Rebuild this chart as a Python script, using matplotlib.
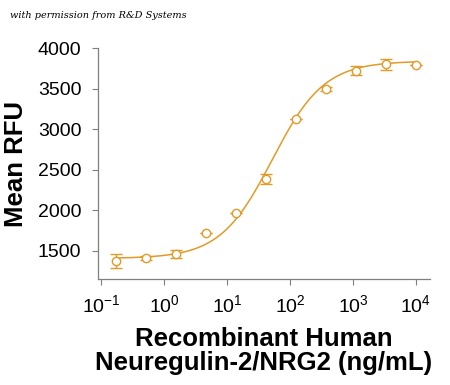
import numpy as np
import matplotlib
matplotlib.use("Agg")
import matplotlib.pyplot as plt

plt.rcParams["font.family"] = ["Liberation Sans", "DejaVu Sans"]

# concentrations (ng/mL), mean RFU and error
conc = [0.17, 0.51, 1.52, 4.57, 13.7, 41.2, 123.5, 370.4, 1111, 3333, 10000]
rfu = [1375, 1410, 1460, 1715, 1960, 2385, 3125, 3495, 3720, 3800, 3790]
err = [85, 30, 55, 0, 0, 65, 0, 25, 55, 65, 0]

# 4PL fit parameters
bottom, top, ec50, hill = 1405, 3840, 52, 1.05

orange = "#E39A27"
gray = "#7f7f7f"

fig = plt.figure(figsize=(4.5, 3.85), dpi=100)
ax = fig.add_axes([0.218, 0.275, 0.737, 0.60])

xs = np.logspace(np.log10(conc[0]), np.log10(conc[-1]), 300)
fit = bottom + (top - bottom) / (1 + (ec50 / xs) ** hill)
ax.plot(xs, fit, color=orange, lw=1.1)

ax.errorbar(conc, rfu, yerr=err, fmt="o", mfc="white", mec=orange, color=orange,
            ms=6, mew=1.0, elinewidth=1.0, capsize=4, capthick=1.0)

ax.set_xscale("log")
ax.set_xlim(10 ** -1.05, 10 ** 4.22)
ax.set_ylim(1150, 4000)
ax.set_yticks([1500, 2000, 2500, 3000, 3500, 4000])
ax.set_xticks([0.1, 1, 10, 100, 1000, 10000])

for s in ["top", "right"]:
    ax.spines[s].set_visible(False)
for s in ["left", "bottom"]:
    ax.spines[s].set_color(gray)
    ax.spines[s].set_linewidth(0.9)

ax.tick_params(axis="both", which="major", direction="out", color=gray, length=4,
               labelsize=14, pad=8)
ax.tick_params(axis="x", which="minor", direction="out", color=gray, length=2.5)
ax.tick_params(axis="x", which="major", pad=7)

ax.set_ylabel("Mean RFU", fontsize=18.5, fontweight="bold", labelpad=7)
ax.set_xlabel("Recombinant Human\nNeuregulin-2/NRG2 (ng/mL)", fontsize=18.5,
              fontweight="bold", labelpad=8, linespacing=1.0)

fig.text(0.022, 0.96, "with permission from R&D Systems", fontsize=7,
         family="DejaVu Serif", style="italic", va="center")

fig.savefig("out.png", dpi=100)
